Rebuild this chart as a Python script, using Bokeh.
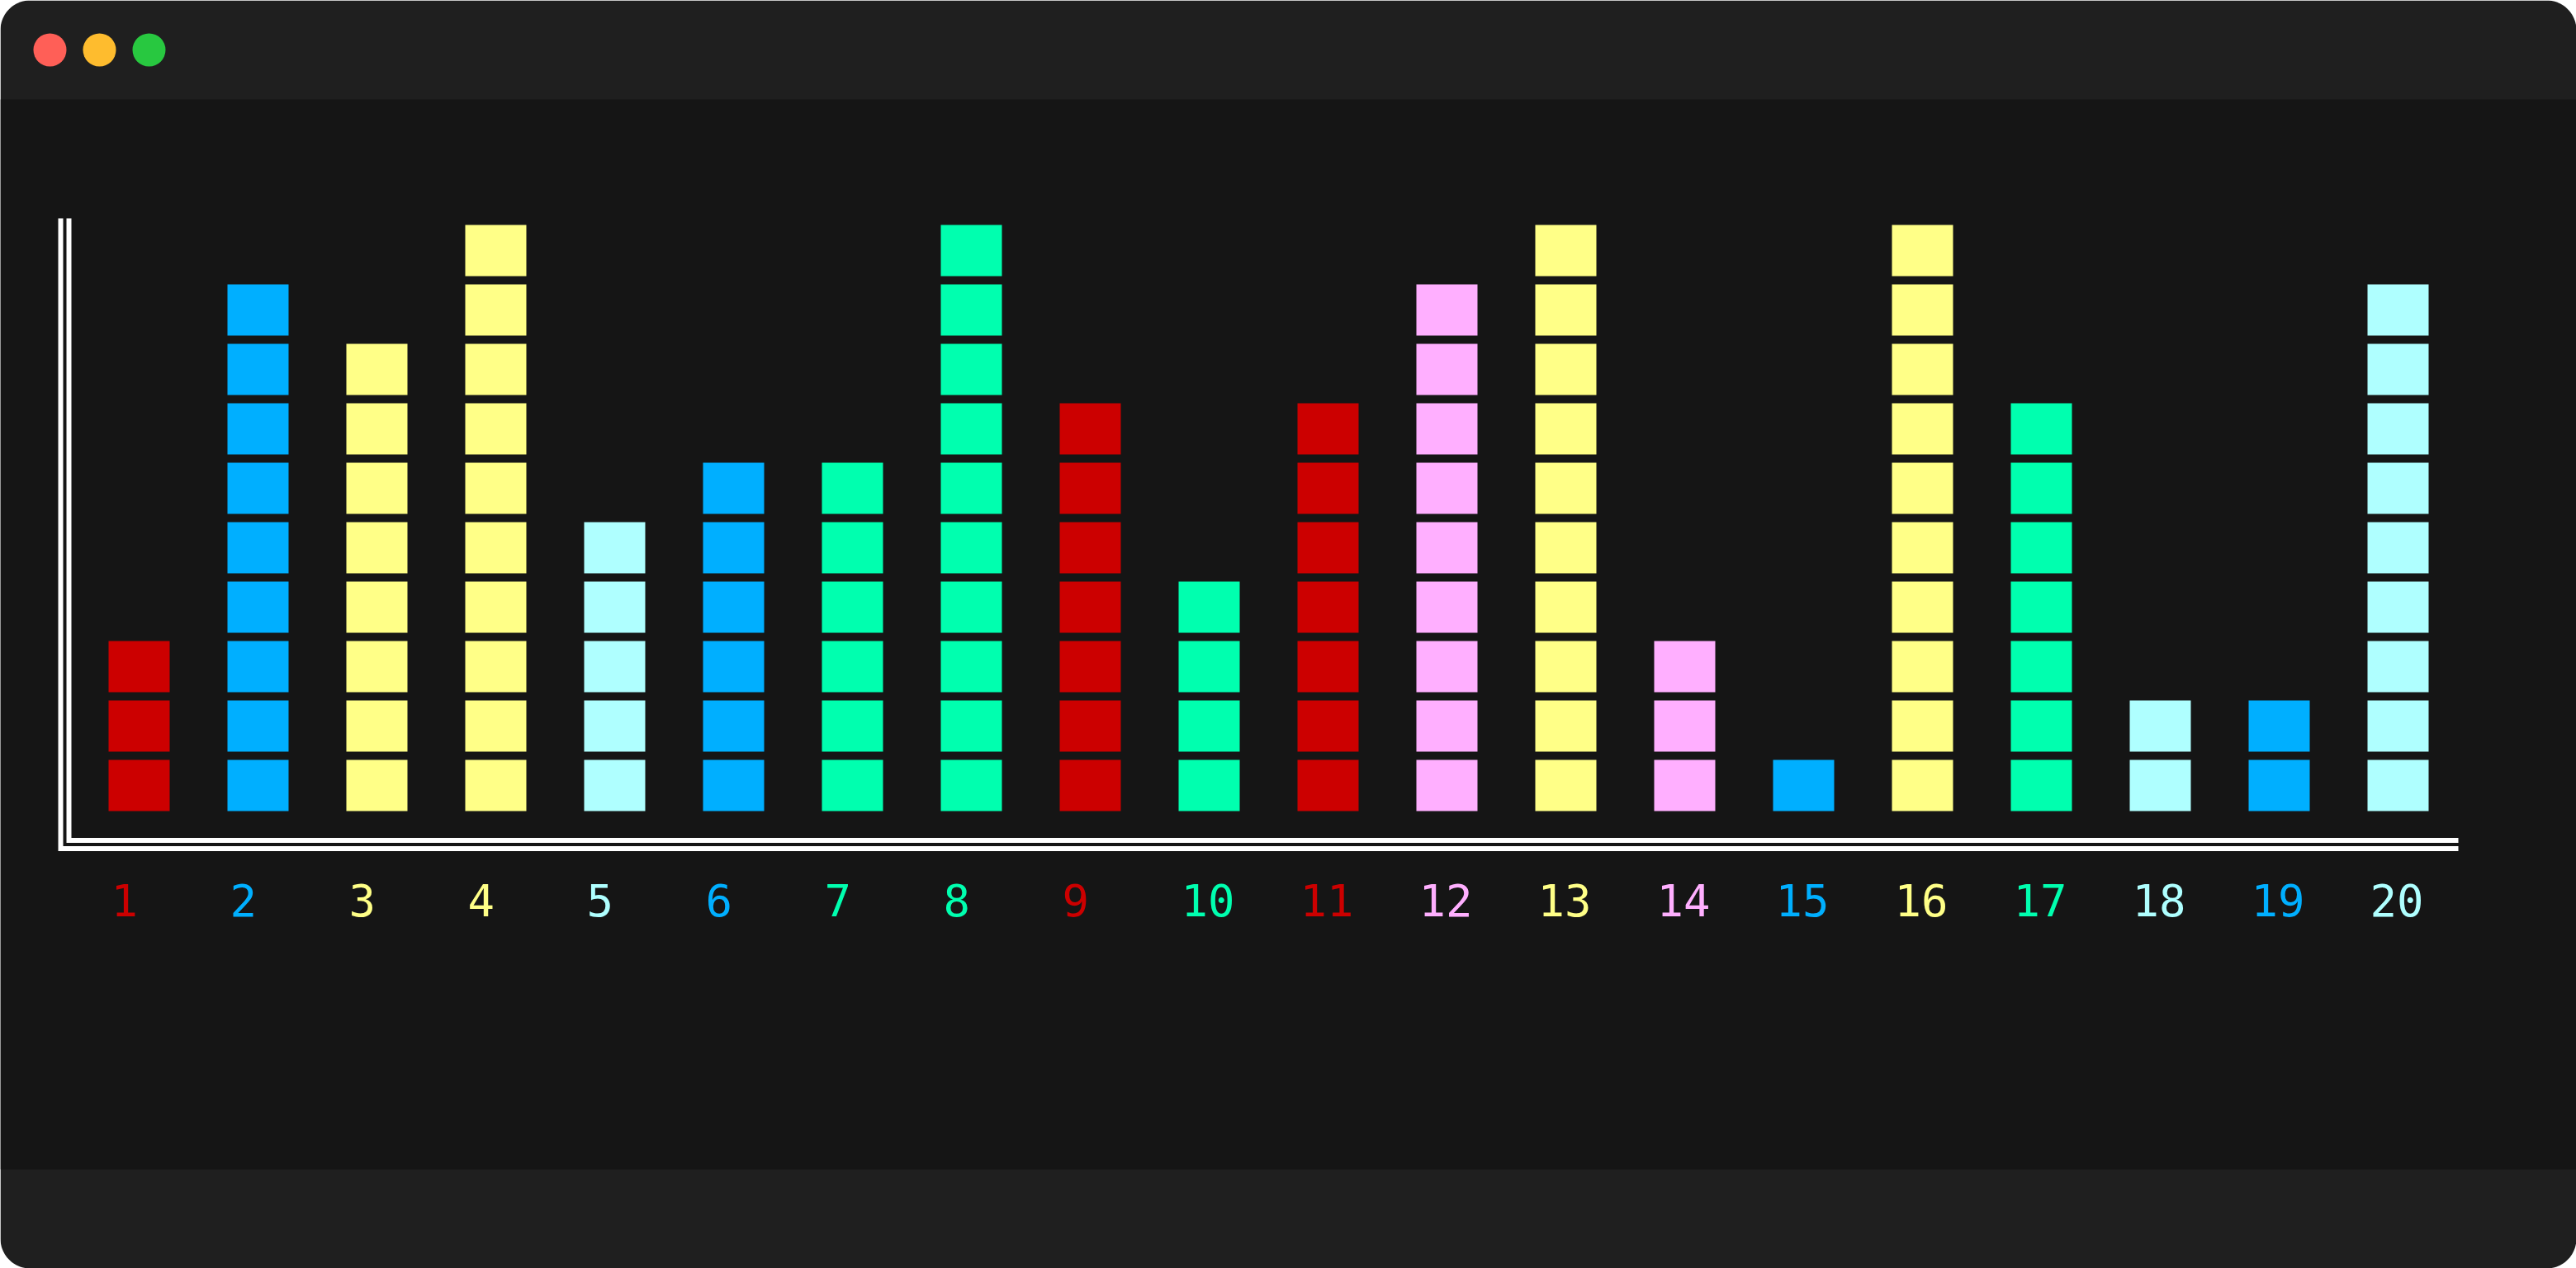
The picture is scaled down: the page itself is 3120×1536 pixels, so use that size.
import numpy as np
from bokeh.plotting import figure
from bokeh.models import Range1d
from bokeh.core.properties import value
from bokeh.embed import file_html
from bokeh.resources import INLINE

# ---- data ----
categories = [str(i) for i in range(1, 21)]
values = [3, 9, 8, 10, 5, 6, 6, 10, 7, 4, 7, 9, 10, 3, 1, 10, 7, 2, 2, 9]
RED, BLUE, YELLOW, CYAN, GREEN, PINK = "#cc0000", "#00afff", "#ffff87", "#afffff", "#00ffaf", "#ffafff"
bar_colors = [RED, BLUE, YELLOW, YELLOW, CYAN, BLUE, GREEN, GREEN, RED, GREEN,
              RED, PINK, YELLOW, PINK, BLUE, YELLOW, GREEN, CYAN, BLUE, CYAN]

# ---- layout (pixel geometry of the canvas) ----
W, H = 3120, 1536
X_FIRST, X_PITCH = 168.0, 144.0     # px of category 1, px per category
Y_BASE, Y_PITCH = 982.0, 72.0       # px of value 0, px per unit


def dx(px):
    return (px - X_FIRST) / X_PITCH + 1


def dy(py):
    return (Y_BASE - py) / Y_PITCH


p = figure(width=W, height=H, output_backend="svg", toolbar_location=None,
           x_range=Range1d(dx(0), dx(W)), y_range=Range1d(dy(H), dy(0)),
           x_axis_location=None, y_axis_location=None, min_border=0)
p.grid.visible = False
p.outline_line_color = None
p.background_fill_color = "#ffffff"
p.border_fill_color = "#ffffff"

# ---- window chrome ----
R = 36
def rounded_rect(x0, y0, x1, y1, r, n=24):
    pts = []
    for cx, cy, a0 in [(x1 - r, y0 + r, -90), (x1 - r, y1 - r, 0), (x0 + r, y1 - r, 90), (x0 + r, y0 + r, 180)]:
        a = np.radians(np.linspace(a0, a0 + 90, n))
        pts += list(zip(cx + r * np.cos(a), cy + r * np.sin(a)))
    xs = [dx(q[0]) for q in pts]
    ys = [dy(q[1]) for q in pts]
    return xs, ys

wx, wy = rounded_rect(0, 0, W, H, R)
p.patch(wx, wy, fill_color="#1f1f1f", line_color=None)
p.quad(left=[dx(0)], right=[dx(W)], top=[dy(120)], bottom=[dy(1416)],
       fill_color="#151515", line_color=None)
p.scatter(x=[dx(60), dx(120), dx(180)], y=[dy(60)] * 3, size=40,
          fill_color=["#ff5f57", "#febc2e", "#28c840"], line_color=None)

# ---- double-line axes ----
p.line([dx(73), dx(73), dx(2977)], [dy(264), dy(1027.5), dy(1027.5)],
       line_color="#ffffff", line_width=6, line_join="miter")
p.line([dx(83), dx(83), dx(2977)], [dy(264), dy(1017.5), dy(1017.5)],
       line_color="#ffffff", line_width=6, line_join="miter")

# ---- stacked blocks ----
bx, by, bc = [], [], []
for i, (v, c) in enumerate(zip(values, bar_colors), start=1):
    for k in range(v):
        bx.append(i)
        by.append(k + 31 / 72)
        bc.append(c)
p.rect(x=bx, y=by, width=74 / 144, height=62 / 72, fill_color=bc, line_color=None)

# ---- category labels ----
xs = [i - 34 / 144 for i in range(1, len(categories) + 1)]
p.text(x=xs, y=[dy(1090)] * len(categories), text=categories, text_color=bar_colors,
       text_align="left", text_baseline="alphabetic",
       text_font=value("DejaVu Sans Mono"), text_font_size="54px")

open("out.html", "w").write(file_html(p, INLINE))
